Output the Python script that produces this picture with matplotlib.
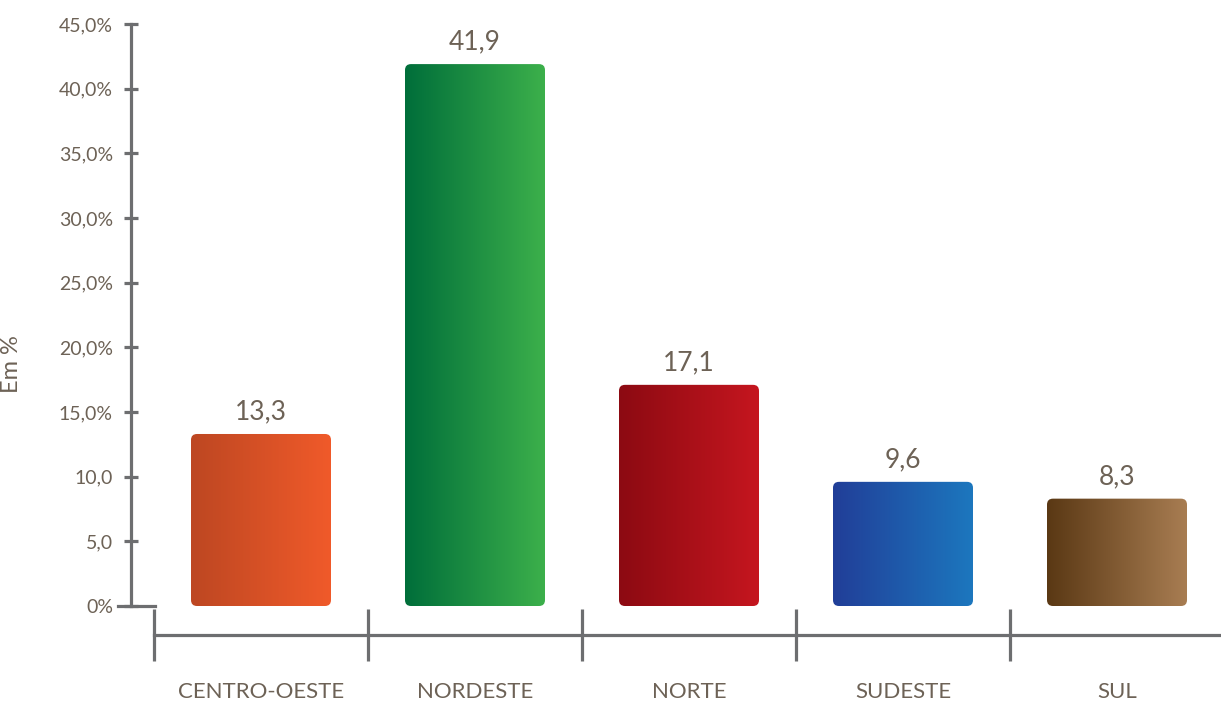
import numpy as np
import matplotlib
matplotlib.use("Agg")
import matplotlib.pyplot as plt
from matplotlib.patches import FancyBboxPatch
from matplotlib.colors import LinearSegmentedColormap

categories = ["CENTRO-OESTE", "NORDESTE", "NORTE", "SUDESTE", "SUL"]
values = [13.3, 41.9, 17.1, 9.6, 8.3]
value_labels = ["13,3", "41,9", "17,1", "9,6", "8,3"]
yticks = [0, 5, 10, 15, 20, 25, 30, 35, 40, 45]
ytick_labels = ["0%", "5,0", "10,0", "15,0%", "20,0%", "25,0%", "30,0%", "35,0%", "40,0%", "45,0%"]
grad_left = ["#BD4722", "#006E3A", "#8C0A12", "#213E98", "#5A3814"]
grad_right = ["#F05A2A", "#3CB04B", "#C5161F", "#1C77BE", "#A87D52"]

TXT = "#6D6256"
AX = "#6D6E70"
plt.rcParams['font.family'] = ['Lato', 'DejaVu Sans']

fig = plt.figure(figsize=(12.21, 7.05), dpi=100)
W, H = 1221, 705
ax = fig.add_axes([131 / W, (H - 606) / H, (W - 131) / W, (606 - 24) / H])

step_px = 214.0
xl = -0.5 - 23 / step_px
xr = xl + (W - 131) / step_px
ax.set_xlim(xl, xr)
ax.set_ylim(0, 45)

bar_w = 140 / step_px
px_y = 582 / 45.0
r = 6 / step_px
asp = (6 / px_y) / r
grad = np.linspace(0, 1, 256).reshape(1, -1)
for i, (v, cl, cr) in enumerate(zip(values, grad_left, grad_right)):
    cmap = LinearSegmentedColormap.from_list(f"g{i}", [cl, cr])
    x0 = i - bar_w / 2
    im = ax.imshow(grad, cmap=cmap, aspect='auto', extent=(x0, x0 + bar_w, 0, v),
                   origin='lower', zorder=2, interpolation='bilinear')
    patch = FancyBboxPatch((x0, 0), bar_w, v,
                           boxstyle=f"round,pad=0,rounding_size={r}",
                           mutation_aspect=asp, facecolor='none', edgecolor='none',
                           transform=ax.transData)
    ax.add_patch(patch)
    im.set_clip_path(patch)
    ax.text(i, v + 0.75, value_labels[i], ha='center', va='bottom',
            fontsize=19, color=TXT)

ax.set_xlim(xl, xr)
ax.set_ylim(0, 45)

# spines
for s in ['top', 'right']:
    ax.spines[s].set_visible(False)
ax.spines['left'].set_color(AX)
ax.spines['left'].set_linewidth(2.3)
ax.spines['bottom'].set_color(AX)
ax.spines['bottom'].set_linewidth(2.3)
ax.spines['bottom'].set_position(('outward', 29 * 72 / 100))
ax.spines['bottom'].set_bounds(-0.5, xr)

ax.set_yticks(yticks)
ax.set_yticklabels(ytick_labels)
ax.tick_params(axis='y', direction='inout', length=9.4, width=2.3, color=AX,
               pad=8.3, labelsize=14, labelcolor=TXT)

ax.set_xticks(range(len(categories)))
ax.set_xticklabels(categories)
ax.set_xticks([-0.5, 0.5, 1.5, 2.5, 3.5], minor=True)
ax.tick_params(axis='x', which='major', length=0, pad=34, labelsize=16, labelcolor=TXT)
ax.tick_params(axis='x', which='minor', direction='inout', length=37.5, width=2.3, color=AX)

# baseline stub at 0
ax.axhline(0, xmin=-13 / 1090, xmax=24 / 1090, color=AX, lw=2.3, clip_on=False, zorder=3)

ax.set_ylabel("Em %", fontsize=17, color=TXT)
ax.yaxis.set_label_coords(-0.1, 0.416)

fig.savefig("out.png", dpi=100)
